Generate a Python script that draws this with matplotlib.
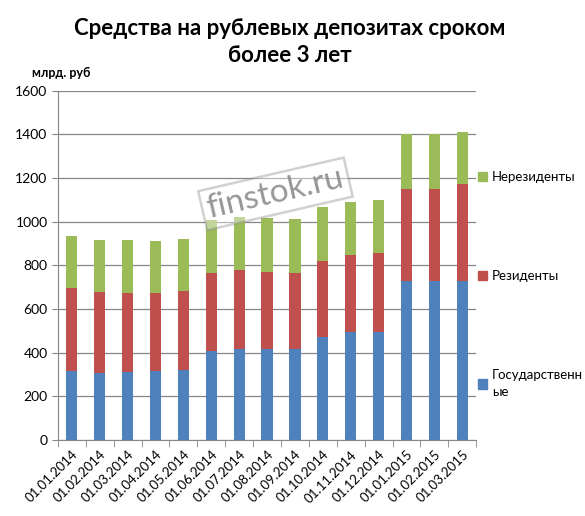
import numpy as np
import matplotlib
matplotlib.use("Agg")
import matplotlib.pyplot as plt
from matplotlib.patches import Patch

dates = ["01.01.2014", "01.02.2014", "01.03.2014", "01.04.2014", "01.05.2014",
         "01.06.2014", "01.07.2014", "01.08.2014", "01.09.2014", "01.10.2014",
         "01.11.2014", "01.12.2014", "01.01.2015", "01.02.2015", "01.03.2015"]
gov = [316, 306, 312, 316, 321, 408, 417, 417, 417, 472, 497, 497, 729, 729, 729]
residents = [381, 373, 362, 358, 362, 358, 362, 353, 349, 349, 351, 360, 422, 422, 445]
nonresidents = [240, 238, 243, 238, 239, 243, 243, 248, 247, 247, 243, 243, 249, 249, 237]

c_blue = "#4F81BD"
c_red = "#C0504D"
c_green = "#9BBB59"

plt.rcParams['font.family'] = ['Lato', 'DejaVu Sans']

fig = plt.figure(figsize=(5.85, 5.16), dpi=100)
ax = fig.add_axes([0.099, 0.147, 0.715, 0.677])

x = np.arange(len(dates))
w = 0.4
gov = np.array(gov)
res = np.array(residents)
non = np.array(nonresidents)
ax.bar(x, gov, w, color=c_blue, zorder=3)
ax.bar(x, res, w, bottom=gov, color=c_red, zorder=3)
ax.bar(x, non, w, bottom=gov + res, color=c_green, zorder=3)

ax.set_xlim(-0.5, len(dates) - 0.5)
ax.set_ylim(0, 1600)
ax.set_yticks(range(0, 1601, 200))
ax.yaxis.grid(True, color="#868686", linewidth=0.9, zorder=0)
ax.tick_params(axis="y", labelsize=10, length=4, color="#868686", direction="out")

ax.set_xticks(x)
ax.set_xticklabels(dates, rotation=45, ha="right", rotation_mode="anchor", fontsize=9.5)
ax.tick_params(axis="x", length=0, pad=6)
ax.set_xticks(np.arange(-0.5, len(dates), 1), minor=True)
ax.tick_params(axis="x", which="minor", length=5, color="#868686")

for s in ["top", "right"]:
    ax.spines[s].set_visible(False)
for s in ["left", "bottom"]:
    ax.spines[s].set_color("#868686")

fig.text(0.495, 0.965, "Средства на рублевых депозитах сроком\nболее 3 лет",
         ha="center", va="top", fontsize=16, fontweight="bold", linespacing=1.35)
fig.text(0.055, 0.858, "млрд. руб", fontsize=9, fontweight="bold", va="center")

handles = [Patch(color=c_green), Patch(color=c_red), Patch(color=c_blue)]
labels = ["Нерезиденты", "Резиденты", "Государственн\nые"]
leg = ax.legend(handles, labels, loc="upper left", bbox_to_anchor=(0.995, 0.782),
                frameon=False, fontsize=9.5, labelspacing=6.6, handlelength=0.7,
                handleheight=0.7, handletextpad=0.35, borderaxespad=0.0,
                borderpad=0.3)
leg.get_texts()[2].set_linespacing(1.5)

ax.text(0.52, 0.705, "finstok.ru", transform=ax.transAxes, fontsize=24,
        color="#8C8C8C", rotation=13, ha="center", va="center", zorder=5,
        alpha=0.9,
        bbox=dict(boxstyle="square,pad=0.15", facecolor="white", alpha=0.4,
                  edgecolor="#8C8C8C", linewidth=1.8))

fig.savefig("out.png", dpi=100)
